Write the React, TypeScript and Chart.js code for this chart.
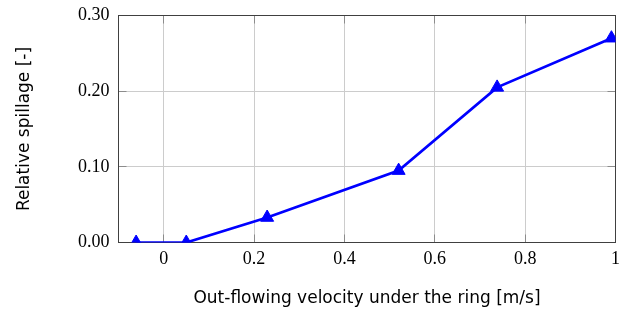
import React, { useEffect, useRef } from 'react';
import { Chart, registerables } from 'chart.js';

Chart.register(...registerables);

const velocities = [-0.061, 0.05, 0.229, 0.52, 0.738, 0.991];
const spillage = [0, 0, 0.033, 0.095, 0.205, 0.27];
const xTicks = [0, 0.2, 0.4, 0.6, 0.8, 1];
const xTickLabels = ['0', '0.2', '0.4', '0.6', '0.8', '1'];
const yTicks = [0, 0.1, 0.2, 0.3];
const yTickLabels = ['0.00', '0.10', '0.20', '0.30'];
const xTitle = 'Out-flowing velocity under the ring [m/s]';
const yTitle = 'Relative spillage [-]';

const TICK_LEN = 8;

const framePlugin = {
  id: 'frame',
  beforeDatasetsDraw(chart: any) {
    const { ctx, chartArea: a, scales } = chart;
    ctx.save();
    ctx.strokeStyle = '#8c8c8c';
    ctx.lineWidth = 1;
    ctx.beginPath();
    for (const v of xTicks) {
      const px = Math.round(scales.x.getPixelForValue(v) - 0.5) + 0.5;
      ctx.moveTo(px, a.top);
      ctx.lineTo(px, a.top + TICK_LEN);
      ctx.moveTo(px, a.bottom);
      ctx.lineTo(px, a.bottom - TICK_LEN);
    }
    for (const v of yTicks) {
      const py = Math.round(scales.y.getPixelForValue(v) - 0.5) + 0.5;
      ctx.moveTo(a.left, py);
      ctx.lineTo(a.left + TICK_LEN, py);
      ctx.moveTo(a.right, py);
      ctx.lineTo(a.right - TICK_LEN, py);
    }
    ctx.stroke();
    ctx.strokeStyle = '#404040';
    ctx.lineWidth = 1;
    ctx.strokeRect(a.left, a.top, a.right - a.left, a.bottom - a.top);
    ctx.restore();
  },
};

export default function App() {
  const ref = useRef<HTMLCanvasElement>(null);
  useEffect(() => {
    document.body.style.margin = '0';
    const chart = new Chart(ref.current!, {
      type: 'line',
      data: {
        datasets: [
          {
            data: velocities.map((x, i) => ({ x, y: spillage[i] })),
            borderColor: '#0000ff',
            backgroundColor: '#0000ff',
            borderWidth: 2.7,
            pointStyle: 'triangle',
            pointRadius: 7.5,
            pointBorderWidth: 1,
            pointBorderColor: '#0000ff',
            pointBackgroundColor: '#0000ff',
            tension: 0,
          },
        ],
      },
      options: {
        responsive: false,
        animation: false,
        layout: { padding: { left: 0, top: 15.5, right: 12.5, bottom: 0 } },
        plugins: { legend: { display: false }, tooltip: { enabled: false } },
        scales: {
          x: {
            type: 'linear',
            min: -0.1,
            max: 1,
            afterBuildTicks: (s: any) => {
              s.ticks = xTicks.map((v) => ({ value: v }));
            },
            afterFit: (s: any) => {
              s.height = 70.5;
              s.paddingLeft = 0;
              s.paddingRight = 0;
            },
            ticks: {
              callback: (v: any) => xTickLabels[xTicks.indexOf(Number(v))] ?? '',
              font: { family: 'Liberation Serif', size: 18 },
              color: '#000',
              padding: 6,
              maxRotation: 0,
            },
            grid: { color: '#cccccc', drawTicks: false, lineWidth: 1 },
            border: { display: false },
            title: {
              display: true,
              text: xTitle,
              font: { family: 'DejaVu Sans', size: 17 },
              color: '#000',
              padding: { top: 0, bottom: 4 },
            },
          },
          y: {
            type: 'linear',
            min: 0,
            max: 0.3,
            afterBuildTicks: (s: any) => {
              s.ticks = yTicks.map((v) => ({ value: v }));
            },
            afterFit: (s: any) => {
              s.width = 118.5;
              s.paddingTop = 0;
              s.paddingBottom = 0;
            },
            ticks: {
              callback: (v: any) => yTickLabels[yTicks.findIndex((t) => Math.abs(t - Number(v)) < 1e-9)] ?? '',
              font: { family: 'Liberation Serif', size: 18 },
              color: '#000',
              padding: 9,
            },
            grid: { color: '#cccccc', drawTicks: false, lineWidth: 1 },
            border: { display: false },
            title: {
              display: true,
              text: yTitle,
              font: { family: 'DejaVu Sans', size: 17 },
              color: '#000',
              padding: { top: 14, bottom: 0 },
            },
          },
        },
      },
      plugins: [framePlugin],
    });
    return () => chart.destroy();
  }, []);
  return <canvas ref={ref} width={628} height={313} style={{ display: 'block' }} />;
}
